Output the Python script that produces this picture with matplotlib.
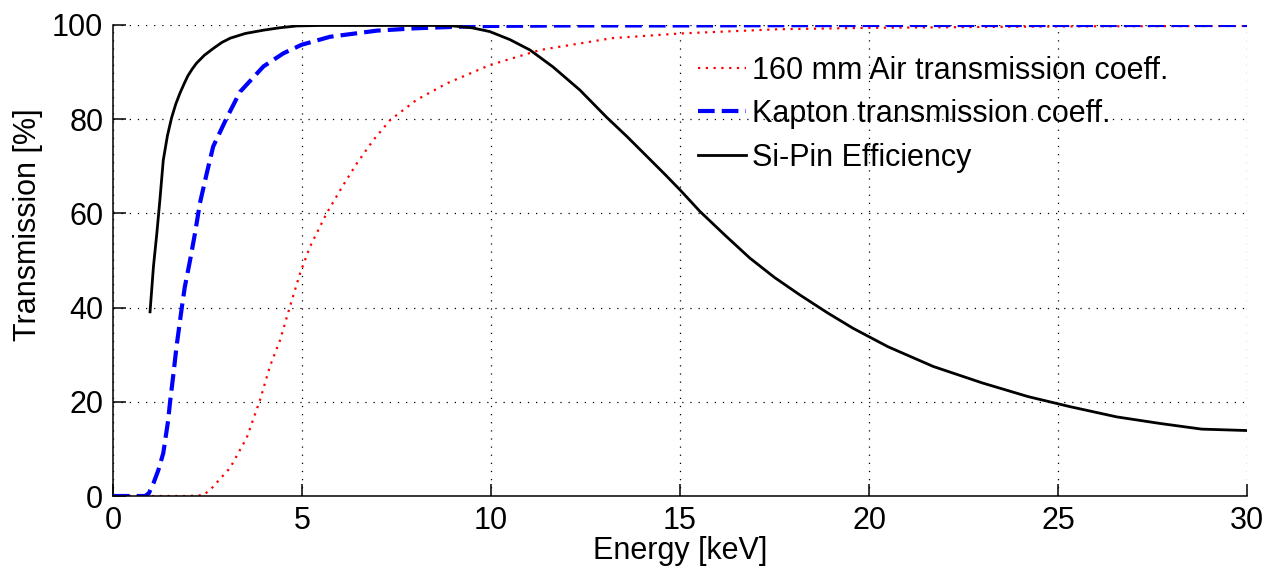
import matplotlib
matplotlib.use("Agg")
import matplotlib.pyplot as plt

plt.rcParams['font.family'] = ['Liberation Sans', 'DejaVu Sans']

# 160 mm of air: transmission coefficient [%] vs photon energy [keV]
air_energy = [0.0, 1.0, 2.0, 2.39, 2.57, 2.65, 3.10, 3.54, 3.89, 4.15, 4.42, 4.68,
              4.95, 5.21, 5.65, 6.09, 6.45, 6.89, 7.33, 8.03, 8.83, 9.97, 11.3,
              13.2, 15.0, 17.6, 20.0, 25.0, 30.0]
air_trans = [0.0, 0.0, 0.0, 0.2, 1.3, 2.0, 6.0, 12.4, 20.4, 27.5, 33.1, 40.2,
             47.3, 52.9, 60.0, 66.0, 70.6, 75.6, 79.8, 84.1, 87.6, 91.5, 94.7,
             97.2, 98.2, 99.1, 99.4, 99.7, 99.8]

# Kapton window: transmission coefficient [%]
kapton_energy = [0.0, 0.5, 0.85, 0.95, 1.07, 1.20, 1.33, 1.46, 1.51, 1.60, 1.68,
                 1.82, 1.90, 2.04, 2.17, 2.30, 2.48, 2.65, 3.01, 3.36, 3.98, 4.51,
                 4.99, 5.74, 6.98, 8.0, 9.0, 10.0, 12.0, 15.0, 20.0, 25.0, 30.0]
kapton_trans = [0.0, 0.0, 0.0, 0.6, 2.7, 5.5, 9.1, 16.1, 20.0, 26.0, 31.7,
                40.0, 44.4, 50.1, 55.8, 62.2, 68.5, 74.2, 80.3, 85.8, 91.2, 94.0,
                95.8, 97.5, 98.8, 99.3, 99.6, 99.8, 99.9, 99.9, 100.0, 100.0, 100.0]

# Si-PIN detector efficiency [%]
sipin_energy = [0.98, 1.07, 1.16, 1.24, 1.33, 1.44, 1.55, 1.66, 1.77, 1.88, 1.98,
                2.10, 2.21, 2.42, 2.65, 2.88, 3.10, 3.50, 3.98, 4.40, 4.86, 5.5,
                6.5, 7.5, 8.5, 9.0, 9.5, 9.97, 10.5, 11.03, 11.64, 12.35, 13.06,
                13.6, 14.1, 14.6, 15.0, 15.53, 16.2, 16.85, 17.5, 18.17, 18.9,
                19.58, 20.5, 21.7, 23.0, 24.21, 25.3, 26.55, 27.7, 28.8, 30.0]
sipin_eff = [39.1, 48.7, 55.8, 62.8, 71.3, 76.5, 80.3, 83.2, 85.5, 87.5, 89.2,
             90.7, 91.9, 93.6, 95.0, 96.3, 97.2, 98.2, 98.9, 99.4, 99.8, 99.9,
             99.9, 99.9, 99.9, 99.8, 99.4, 98.6, 96.9, 94.7, 91.1, 86.2, 80.4,
             76.3, 72.3, 68.3, 65.0, 60.4, 55.3, 50.5, 46.4, 42.7, 38.9,
             35.6, 31.7, 27.5, 24.0, 21.1, 19.0, 16.8, 15.4, 14.2, 13.9]

x_ticks = [0, 5, 10, 15, 20, 25, 30]
y_ticks = [0, 20, 40, 60, 80, 100]

fig = plt.figure(figsize=(12.68, 5.78), dpi=100)
ax = fig.add_axes([113 / 1268, 1 - 496 / 578, 1134 / 1268, 471 / 578])

ax.plot(air_energy, air_trans, color='#ff0000', lw=1.6,
        linestyle=(0, (1.0, 2.5)), label='160 mm Air transmission coeff.')
ax.plot(kapton_energy, kapton_trans, color='#0000ff', lw=3.0,
        linestyle=(0, (4.0, 1.7)), label='Kapton transmission coeff.')
ax.plot(sipin_energy, sipin_eff, color='black', lw=2.0,
        linestyle='-', label='Si-Pin Efficiency')

ax.set_xlim(0, 30)
ax.set_ylim(0, 100)
ax.set_xticks(x_ticks)
ax.set_yticks(y_ticks)

for side in ('top', 'right'):
    ax.spines[side].set_visible(False)
for side in ('left', 'bottom'):
    ax.spines[side].set_linewidth(1.1)

ax.tick_params(direction='in', length=9, width=1.1, labelsize=22)
ax.tick_params(axis='x', pad=7)
ax.tick_params(axis='y', pad=7)

ax.grid(True, color='black', lw=0.9, linestyle=(0, (1.0, 5.5)))
ax.set_axisbelow(True)

ax.set_xlabel('Energy [keV]', fontsize=22)
ax.set_ylabel('Transmission [%]', fontsize=22)
ax.xaxis.set_label_coords(0.5, -0.085)
ax.yaxis.set_label_coords(-0.062, 0.575)

ax.legend(loc='upper left', bbox_to_anchor=(0.516, 0.935), frameon=False,
          fontsize=22, handlelength=1.55, handletextpad=0.2, labelspacing=0.44,
          borderpad=0.0, borderaxespad=0.0)

fig.savefig('out.png', dpi=100)
